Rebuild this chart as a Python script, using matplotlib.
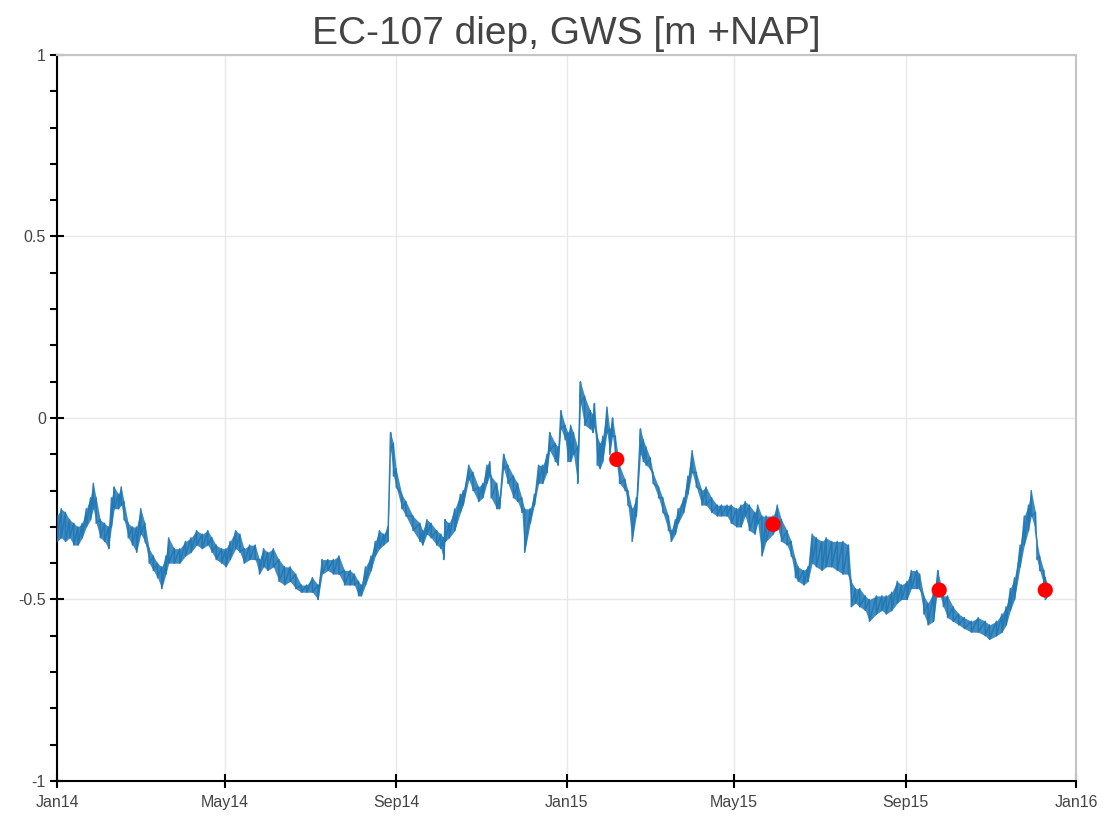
import numpy as np
import pandas as pd
import matplotlib
matplotlib.use('Agg')
import matplotlib.pyplot as plt
import matplotlib.dates as mdates
from matplotlib.ticker import MultipleLocator, FuncFormatter

plt.rcParams['font.family'] = ['Liberation Sans', 'DejaVu Sans']
plt.rcParams['axes.unicode_minus'] = False

# day offset from 2014-01-01, upper and lower edge of the hourly band [m +NAP]
days = [0, 3, 6, 9, 12, 15, 18, 21, 24, 26, 28, 31, 34, 37, 39, 41, 44, 46, 48, 51,
        54, 57, 60, 63, 66, 69, 72, 75, 78, 80, 84, 88, 92, 96, 100, 104, 108, 111, 114, 118,
        121, 124, 128, 131, 134, 138, 142, 145, 148, 151, 155, 159, 163, 167, 171, 175, 179, 183, 187, 190,
        194, 198, 202, 206, 210, 213, 216, 218, 221, 225, 228, 231, 234, 237, 239, 241, 243, 247, 250, 255,
        260, 262, 265, 268, 272, 275, 277, 278, 281, 285, 289, 291, 295, 298, 302, 305, 308, 310, 311, 315,
        317, 320, 323, 327, 330, 333, 335, 339, 342, 345, 348, 351, 353, 357, 359, 361, 364, 366, 368, 370,
        373, 375, 378, 382, 384, 385, 387, 389, 391, 394, 396, 398, 400, 403, 407, 409, 412, 415, 418, 420,
        422, 425, 427, 431, 434, 438, 440, 443, 445, 449, 452, 455, 458, 462, 465, 469, 473, 476, 480, 483,
        487, 490, 493, 496, 500, 502, 505, 508, 513, 516, 519, 523, 526, 529, 531, 535, 538, 541, 544, 548,
        551, 555, 559, 563, 567, 569, 572, 575, 579, 582, 587, 591, 594, 598, 602, 605, 609, 612, 616, 618,
        621, 624, 628, 631, 635, 638, 642, 646, 650, 655, 660, 665, 668, 673, 677, 680, 683, 686, 690, 693,
        696, 698, 701, 702, 704, 707, 708, 710]
hi = [-0.27, -0.25, -0.26, -0.28, -0.29, -0.30, -0.29, -0.25, -0.22, -0.18, -0.22, -0.28, -0.29, -0.30, -0.22, -0.19, -0.21, -0.19, -0.23, -0.29,
      -0.30, -0.30, -0.25, -0.29, -0.36, -0.38, -0.40, -0.41, -0.38, -0.33, -0.36, -0.36, -0.34, -0.33, -0.31, -0.32, -0.31, -0.33, -0.35, -0.36,
      -0.36, -0.34, -0.31, -0.32, -0.36, -0.35, -0.35, -0.39, -0.36, -0.37, -0.36, -0.39, -0.41, -0.41, -0.43, -0.46, -0.46, -0.44, -0.46, -0.39,
      -0.39, -0.39, -0.38, -0.42, -0.42, -0.43, -0.45, -0.46, -0.41, -0.38, -0.34, -0.31, -0.32, -0.30, -0.04, -0.07, -0.14, -0.21, -0.23, -0.27,
      -0.29, -0.31, -0.28, -0.29, -0.31, -0.32, -0.33, -0.28, -0.29, -0.25, -0.21, -0.20, -0.13, -0.15, -0.19, -0.18, -0.13, -0.12, -0.16, -0.18,
      -0.22, -0.10, -0.13, -0.16, -0.18, -0.22, -0.25, -0.25, -0.21, -0.13, -0.13, -0.10, -0.04, -0.07, -0.08, 0.02, -0.02, -0.04, -0.02, -0.04,
      -0.08, 0.10, 0.06, 0.02, 0.01, 0.04, -0.05, -0.07, -0.05, 0.03, -0.03, 0.00, -0.05, -0.13, -0.17, -0.20, -0.25, -0.22, -0.03, -0.06,
      -0.08, -0.11, -0.15, -0.19, -0.22, -0.27, -0.31, -0.28, -0.25, -0.22, -0.16, -0.09, -0.15, -0.20, -0.19, -0.22, -0.24, -0.24, -0.24, -0.24,
      -0.25, -0.24, -0.23, -0.24, -0.26, -0.24, -0.27, -0.27, -0.27, -0.24, -0.28, -0.31, -0.34, -0.39, -0.41, -0.42, -0.41, -0.32, -0.33, -0.34,
      -0.33, -0.34, -0.34, -0.34, -0.35, -0.45, -0.47, -0.47, -0.49, -0.50, -0.49, -0.49, -0.49, -0.48, -0.45, -0.46, -0.45, -0.42, -0.42, -0.43,
      -0.49, -0.51, -0.48, -0.42, -0.49, -0.49, -0.52, -0.54, -0.55, -0.56, -0.55, -0.56, -0.57, -0.56, -0.54, -0.52, -0.47, -0.44, -0.35, -0.27,
      -0.24, -0.20, -0.26, -0.34, -0.38, -0.42, -0.44, -0.46]
lo = [-0.34, -0.33, -0.34, -0.33, -0.35, -0.35, -0.33, -0.30, -0.28, -0.25, -0.29, -0.33, -0.34, -0.36, -0.30, -0.25, -0.25, -0.24, -0.28, -0.33,
      -0.35, -0.37, -0.32, -0.34, -0.40, -0.42, -0.44, -0.47, -0.43, -0.40, -0.40, -0.40, -0.38, -0.37, -0.35, -0.36, -0.35, -0.37, -0.39, -0.40,
      -0.41, -0.39, -0.36, -0.37, -0.40, -0.39, -0.39, -0.43, -0.41, -0.42, -0.41, -0.45, -0.46, -0.45, -0.47, -0.48, -0.48, -0.48, -0.50, -0.43,
      -0.42, -0.43, -0.43, -0.46, -0.46, -0.46, -0.49, -0.49, -0.46, -0.42, -0.38, -0.36, -0.35, -0.34, -0.09, -0.16, -0.19, -0.25, -0.27, -0.31,
      -0.34, -0.35, -0.32, -0.33, -0.35, -0.36, -0.39, -0.34, -0.33, -0.31, -0.26, -0.24, -0.17, -0.20, -0.23, -0.22, -0.18, -0.16, -0.22, -0.25,
      -0.25, -0.14, -0.18, -0.22, -0.23, -0.26, -0.37, -0.29, -0.24, -0.18, -0.18, -0.15, -0.09, -0.12, -0.13, -0.03, -0.06, -0.12, -0.12, -0.10,
      -0.18, 0.04, -0.02, -0.03, -0.04, -0.02, -0.13, -0.14, -0.12, -0.04, -0.10, -0.05, -0.11, -0.18, -0.20, -0.24, -0.34, -0.27, -0.10, -0.12,
      -0.13, -0.14, -0.18, -0.22, -0.26, -0.31, -0.34, -0.32, -0.29, -0.26, -0.21, -0.15, -0.19, -0.24, -0.24, -0.26, -0.27, -0.27, -0.27, -0.29,
      -0.30, -0.30, -0.27, -0.31, -0.32, -0.29, -0.38, -0.34, -0.32, -0.30, -0.34, -0.35, -0.38, -0.44, -0.45, -0.46, -0.45, -0.40, -0.41, -0.42,
      -0.41, -0.41, -0.42, -0.43, -0.43, -0.52, -0.51, -0.52, -0.53, -0.56, -0.54, -0.53, -0.54, -0.53, -0.51, -0.50, -0.50, -0.47, -0.47, -0.47,
      -0.54, -0.57, -0.56, -0.47, -0.52, -0.55, -0.56, -0.57, -0.58, -0.59, -0.59, -0.60, -0.61, -0.60, -0.59, -0.57, -0.53, -0.50, -0.41, -0.35,
      -0.31, -0.27, -0.31, -0.39, -0.42, -0.46, -0.50, -0.49]

# hand measurements (red dots)
meas_dates = ['2015-02-06', '2015-05-29', '2015-09-25', '2015-12-10']
meas_vals = [-0.114, -0.293, -0.474, -0.474]

t = pd.Timestamp('2014-01-01') + pd.to_timedelta(days, unit='D')
t_zig = np.repeat(t.values, 2)
v_zig = np.column_stack([hi, lo]).ravel()

blue = '#1f77b4'
fig = plt.figure(figsize=(11.12, 8.16), dpi=100)
ax = fig.add_axes([0.0513, 0.0429, 0.9163, 0.8897])

ax.fill_between(t, lo, hi, color=blue, lw=0, alpha=0.85, zorder=2)
ax.plot(t_zig, v_zig, color=blue, lw=1.1, alpha=0.9, zorder=3)
ax.scatter(pd.to_datetime(meas_dates), meas_vals, s=120, color='red', zorder=4, edgecolors='none')

ax.set_xlim(pd.Timestamp('2014-01-01'), pd.Timestamp('2016-01-01'))
ax.set_ylim(-1, 1)

ax.xaxis.set_major_locator(mdates.MonthLocator(bymonth=[1, 5, 9]))
ax.xaxis.set_major_formatter(mdates.DateFormatter('%b%y'))
ax.yaxis.set_major_locator(MultipleLocator(0.5))
ax.yaxis.set_minor_locator(MultipleLocator(0.1))
ax.yaxis.set_major_formatter(FuncFormatter(lambda v, p: '%g' % v))

ax.grid(True, color='#e8e8e8', lw=1, zorder=0)
ax.set_axisbelow(True)

for s in ['top', 'right']:
    ax.spines[s].set_color('#c4c4c4')
    ax.spines[s].set_linewidth(1.5)
for s in ['left', 'bottom']:
    ax.spines[s].set_color('black')
    ax.spines[s].set_linewidth(1.5)

ax.tick_params(axis='both', which='major', direction='inout', length=10, width=1.5,
               labelsize=11.5, labelcolor='#444444', pad=3)
ax.tick_params(axis='y', which='minor', direction='out', length=5, width=1.5)
ax.tick_params(axis='x', which='major', pad=5)

ax.set_title('EC-107 diep, GWS [m +NAP]', fontsize=28, color='#444444', pad=8)

fig.savefig('out.png', dpi=100)
